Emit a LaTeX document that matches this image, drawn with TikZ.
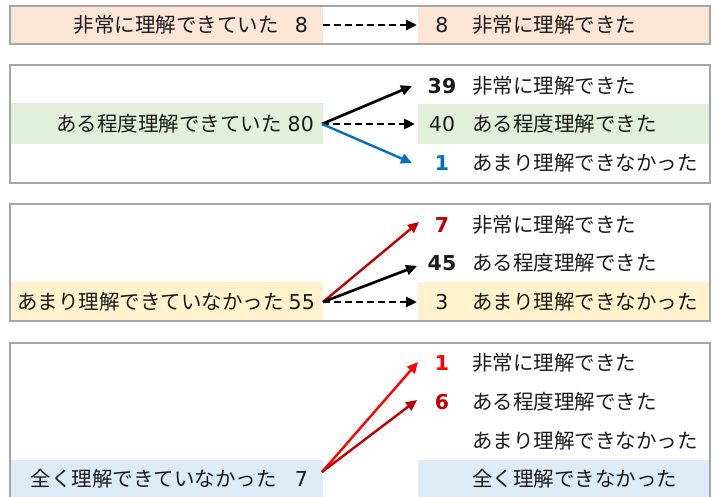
\documentclass[tikz,border=0pt]{standalone}
\usepackage{fontspec}
\setmainfont{Noto Sans CJK JP}
\newfontfamily\numf{DejaVu Sans}
\usetikzlibrary{arrows.meta}
\definecolor{peach}{HTML}{FBE5D6}
\definecolor{lgreen}{HTML}{E2EFDA}
\definecolor{lyellow}{HTML}{FFF2CC}
\definecolor{lblue}{HTML}{DDEBF7}
\definecolor{dred}{HTML}{C00000}
\definecolor{bred}{HTML}{FF0000}
\definecolor{mblue}{HTML}{0070C0}
\definecolor{txtc}{HTML}{1A1A1A}
\newcommand{\nm}[1]{{\numf\fontsize{20.5}{24}\selectfont #1}}
\begin{document}
\begin{tikzpicture}[x=1pt,y=-1pt,
 txt/.style={font=\fontsize{20.5}{24}\selectfont, inner sep=0pt, text=txtc},
 lbl/.style={txt, anchor=base west},
 num/.style={txt, anchor=base, font=\fontsize{20.5}{24}\selectfont\numf},
 bnum/.style={num, font=\fontsize{20.5}{24}\selectfont\numf\bfseries},
 lft/.style={txt, anchor=base east},
 panel/.style={draw=gray!70, line width=1.3pt},
 arr/.style={-{Triangle[length=11pt,width=10pt]}, line width=2.7pt},
 carr/.style={arr, line width=2.4pt},
 dsh/.style={arr, dash pattern=on 7pt off 4pt},
]
\useasboundingbox (0,0) rectangle (717,497);

% ---------- panel 1
\fill[peach] (10,6) rectangle (323,44);
\fill[peach] (418,6) rectangle (710,44);
\draw[panel] (10,6) rectangle (710,44);
\node[lft] (a1) at (308,32.5) {非常に理解できていた\hspace{16pt}\nm{8}};
\node[num] (n1) at (442,32.5) {8};
\node[lbl] (b1) at (472,32.5) {非常に理解できた};
\coordinate (s1) at (323,25);
\coordinate (t1) at (417,25);
\draw[dsh] (s1) -- (t1);

% ---------- panel 2
\fill[lgreen] (11,103) rectangle (323,144);
\fill[lgreen] (418,104) rectangle (710,144);
\draw[panel] (10,65) rectangle (710,183);
\node[lft] (a2) at (314,131.5) {ある程度理解できていた\hspace{6pt}\nm{80}};
\node[bnum] (n21) at (442,93.5) {39};
\node[num] (n22) at (442,131.5) {40};
\node[bnum, text=mblue] (n23) at (442,170.5) {1};
\node[lbl] (b21) at (472,93.5) {非常に理解できた};
\node[lbl] (b22) at (472,131.5) {ある程度理解できた};
\node[lbl] (b23) at (472,170.5) {あまり理解できなかった};
\coordinate (s2) at (322,124);
\coordinate (t21) at (412,86);
\coordinate (t22) at (415,124);
\coordinate (t23) at (412,163);
\draw[arr] (s2) -- (t21);
\draw[dsh] (s2) -- (t22);
\draw[carr, mblue] (s2) -- (t23);

% ---------- panel 3
\fill[lyellow] (11,282) rectangle (323,321);
\fill[lyellow] (418,282) rectangle (710,321);
\draw[panel] (10,204) rectangle (710,321);
\node[lft] (a3) at (315,309.5) {あまり理解できていなかった\hspace{5pt}\nm{55}};
\node[bnum, text=dred] (n31) at (442,232.5) {7};
\node[bnum] (n32) at (442,270.5) {45};
\node[num] (n33) at (442,309.5) {3};
\node[lbl] (b31) at (472,232.5) {非常に理解できた};
\node[lbl] (b32) at (472,270.5) {ある程度理解できた};
\node[lbl] (b33) at (472,309.5) {あまり理解できなかった};
\coordinate (s3) at (323,302);
\coordinate (t31) at (419,222);
\coordinate (t32) at (417,266);
\coordinate (t33) at (417,302);
\draw[carr, dred] (s3) -- (t31);
\draw[arr] (s3) -- (t32);
\draw[dsh] (s3) -- (t33);

% ---------- panel 4
\fill[lblue] (11,460) rectangle (323,500);
\fill[lblue] (418,460) rectangle (710,500);
\draw[panel] (10,343) rectangle (710,505);
\node[lft] (a4) at (308,486.5) {全く理解できていなかった\hspace{18pt}\nm{7}};
\node[bnum, text=bred] (n41) at (442,370.5) {1};
\node[bnum, text=dred] (n42) at (442,409.5) {6};
\node[lbl] (b41) at (472,370.5) {非常に理解できた};
\node[lbl] (b42) at (472,409.5) {ある程度理解できた};
\node[lbl] (b43) at (472,448.5) {あまり理解できなかった};
\node[lbl] (b44) at (472,486.5) {全く理解できなかった};
\coordinate (s4) at (322,472);
\coordinate (t41) at (418,362);
\coordinate (t42) at (417,400);
\draw[carr, bred] (s4) -- (t41);
\draw[carr, dred] (s4) -- (t42);
\end{tikzpicture}
\end{document}
